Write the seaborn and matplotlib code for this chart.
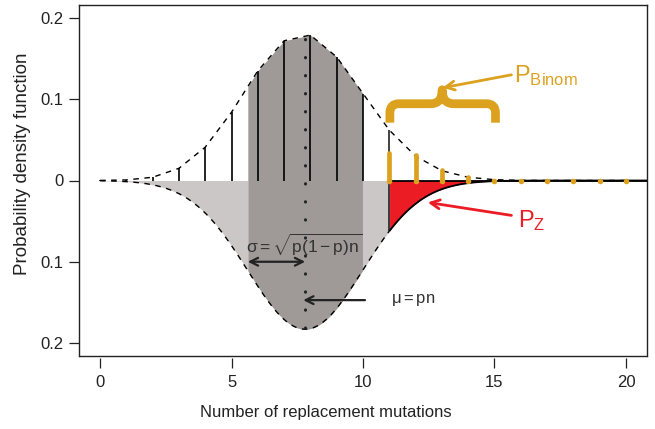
import numpy as np
import matplotlib
matplotlib.use("Agg")
import matplotlib.pyplot as plt
import seaborn as sns
from matplotlib.path import Path
from matplotlib.patches import PathPatch

# ---- data ----
k_values = list(range(0, 21))
binom_pmf = [0.0001, 0.0007, 0.004, 0.015, 0.041, 0.084, 0.135, 0.172, 0.179,
             0.152, 0.107, 0.062, 0.030, 0.012, 0.004, 0.001, 0.0002, 0.0, 0.0, 0.0, 0.0]
tail_k = [11, 12, 13, 14, 15, 16, 17, 18, 19, 20]
tail_heights = [0.034, 0.031, 0.013, 0.004, 0.001, 0.0, 0.0, 0.0, 0.0, 0.0]
mu = 7.8            # normal mean (pn)
sigma = 2.18        # normal sd sqrt(p(1-p)n)
cutoff = 11         # start of tail
xticks = [0, 5, 10, 15, 20]
yticks = [-0.2, -0.1, 0.0, 0.1, 0.2]
ytick_labels = ["0.2", "0.1", "0", "0.1", "0.2"]

sns.set_style("white")
plt.rcParams['font.family'] = ['Liberation Sans', 'DejaVu Sans']
plt.rcParams['mathtext.fontset'] = 'custom'
plt.rcParams['mathtext.rm'] = 'Liberation Sans'
plt.rcParams['mathtext.it'] = 'Liberation Sans:italic'
plt.rcParams['mathtext.sf'] = 'Liberation Sans'

DARK = '#9f9997'
LIGHT = '#cbc7c6'
RED = '#ec1c24'
ORANGE = '#dca21f'

fig = plt.figure(figsize=(6.55, 4.29), dpi=100)
ax = fig.add_axes([79/655, 1-356/429, (647-79)/655, (356-5)/429])
ax.set_xlim(-0.8, 20.8)
ax.set_ylim(-0.216, 0.216)

k = np.array(k_values, dtype=float)
pmf = np.array(binom_pmf)
lo, hi = mu - sigma, mu + sigma

xg = np.linspace(0, 20.8, 2000)
dens = np.exp(-0.5 * ((xg - mu) / sigma) ** 2) / (sigma * np.sqrt(2 * np.pi))

# lower half: normal density mirrored
m = xg <= cutoff
ax.fill_between(xg[m], -dens[m], 0, color=LIGHT, lw=0, zorder=1)
m2 = (xg >= lo) & (xg <= hi)
ax.fill_between(xg[m2], -dens[m2], 0, color=DARK, lw=0, zorder=1.5)
m3 = xg >= cutoff
ax.fill_between(xg[m3], -dens[m3], 0, color=RED, lw=0, zorder=1.5)

# upper half: dark region under the binomial envelope
xt = np.linspace(lo, hi, 400)
ax.fill_between(xt, 0, np.interp(xt, k, pmf), color=DARK, lw=0, zorder=1.5)

# black binomial bars
d11 = np.exp(-0.5 * ((cutoff - mu) / sigma) ** 2) / (sigma * np.sqrt(2 * np.pi))
for kk, pp in zip(k_values, binom_pmf):
    if kk < cutoff:
        ax.plot([kk, kk], [0, pp], color='black', lw=1.2, zorder=3, solid_capstyle='butt')
    elif kk == cutoff:
        ax.plot([kk, kk], [-d11, pp], color='#222222', lw=1.2, zorder=3, solid_capstyle='butt')

# envelope (dashed)
sns.lineplot(x=k_values, y=binom_pmf, ax=ax, color='black', lw=1.0,
             linestyle=(0, (4, 4)), zorder=4)

# normal curve: dashed left of cutoff, solid right of it
sns.lineplot(x=xg[m], y=-dens[m], ax=ax, color='black', lw=1.0,
             linestyle=(0, (4, 4)), zorder=4)
sns.lineplot(x=xg[m3], y=-dens[m3], ax=ax, color='black', lw=1.3, zorder=4)
ax.plot([cutoff, 20.8], [0, 0], color='black', lw=1.3, zorder=4)

# orange tail bars
for kk, hh in zip(tail_k, tail_heights):
    if hh > 0.002:
        ax.plot([kk, kk], [0, hh], color=ORANGE, lw=3.4, solid_capstyle='round', zorder=5)
sns.scatterplot(x=tail_k, y=[0.0] * len(tail_k), ax=ax, color=ORANGE, s=16,
                linewidth=0, zorder=5)

# dotted mean line
ax.plot([mu, mu], [0.174, -0.182], color='#222222', lw=2.2,
        linestyle=(0, (0.1, 5.8)), dash_capstyle='round', zorder=5)

# helpers for annotation placement (pixel -> data)
def px(x):
    return (x - 99) / 26.4

def py(y):
    return (182 - y) / 815.0

# sigma annotation
ax.text(mu - 0.05, py(247), r'$\mathrm{\sigma = \sqrt{p(1-p)n}}$', ha='center', va='center',
        fontsize=12.5, color='#333333', zorder=6)
ax.annotate('', xy=(lo, -0.1), xytext=(mu, -0.1),
            arrowprops=dict(arrowstyle='<->', color='#222222', lw=1.6,
                            mutation_scale=14, shrinkA=0, shrinkB=0), zorder=6)
# mu annotation
ax.annotate('', xy=(px(303), py(302)), xytext=(px(365), py(302)),
            arrowprops=dict(arrowstyle='->', color='#222222', lw=1.6,
                            mutation_scale=14, shrinkA=0, shrinkB=0), zorder=6)
ax.text(px(391), py(302), r'$\mathrm{\mu = pn}$', ha='left', va='center',
        fontsize=12, color='#333333')

# brace for P_Binom
verts = [(390, 124), (390, 114), (390, 105), (399, 105), (431, 105),
         (442.5, 105), (442.5, 91), (442.5, 105), (454, 105), (487, 105),
         (496, 105), (496, 114), (496, 124)]
codes = [Path.MOVETO, Path.LINETO, Path.CURVE3, Path.CURVE3, Path.LINETO,
         Path.CURVE3, Path.CURVE3, Path.CURVE3, Path.CURVE3, Path.LINETO,
         Path.CURVE3, Path.CURVE3, Path.LINETO]
brace = Path([(px(a), py(b)) for a, b in verts], codes)
ax.add_patch(PathPatch(brace, fill=False, edgecolor=ORANGE, lw=6.3,
                       capstyle='butt', joinstyle='round', zorder=6))
ax.annotate('', xy=(px(443), py(89)), xytext=(px(512), py(76)),
            arrowprops=dict(arrowstyle='->', color=ORANGE, lw=2.0,
                            mutation_scale=16, shrinkA=0, shrinkB=0), zorder=6)
ax.text(px(515), py(77), r'$\mathrm{P_{Binom}}$', ha='left', va='center',
        fontsize=17, color=ORANGE)

# P_Z annotation
ax.annotate('', xy=(px(428), py(204)), xytext=(px(512), py(217)),
            arrowprops=dict(arrowstyle='->', color=RED, lw=2.0,
                            mutation_scale=16, shrinkA=0, shrinkB=0), zorder=6)
ax.text(px(519), py(222), r'$\mathrm{P_{Z}}$', ha='left', va='center',
        fontsize=17, color=RED)

# axes styling
ax.set_xticks(xticks)
ax.set_yticks(yticks)
ax.set_yticklabels(ytick_labels)
ax.tick_params(axis='both', direction='out', length=7, width=0.9, color='#222222',
               labelsize=12, labelcolor='#222222', left=True, bottom=True)
ax.tick_params(axis='y', pad=4)
ax.tick_params(axis='x', pad=5)
for s in ax.spines.values():
    s.set_visible(True)
    s.set_color('#222222')
    s.set_linewidth(1.0)
ax.spines['bottom'].set_position(('outward', 1.5))
ax.spines['bottom'].set_color('none')
ax.plot([0, 1], [0, 0], transform=ax.transAxes, color='#222222', lw=1.0, clip_on=False, zorder=10)
ax.set_xlabel('Number of replacement mutations', fontsize=12, color='#222222')
ax.set_ylabel('Probability density function', fontsize=13.5, color='#222222')
ax.xaxis.set_label_coords((326 - 79) / 568, -(405 - 356) / 351)
ax.yaxis.set_label_coords(-(79 - 31) / 568, (356 - 164) / 351)

fig.savefig('out.png', dpi=100)
